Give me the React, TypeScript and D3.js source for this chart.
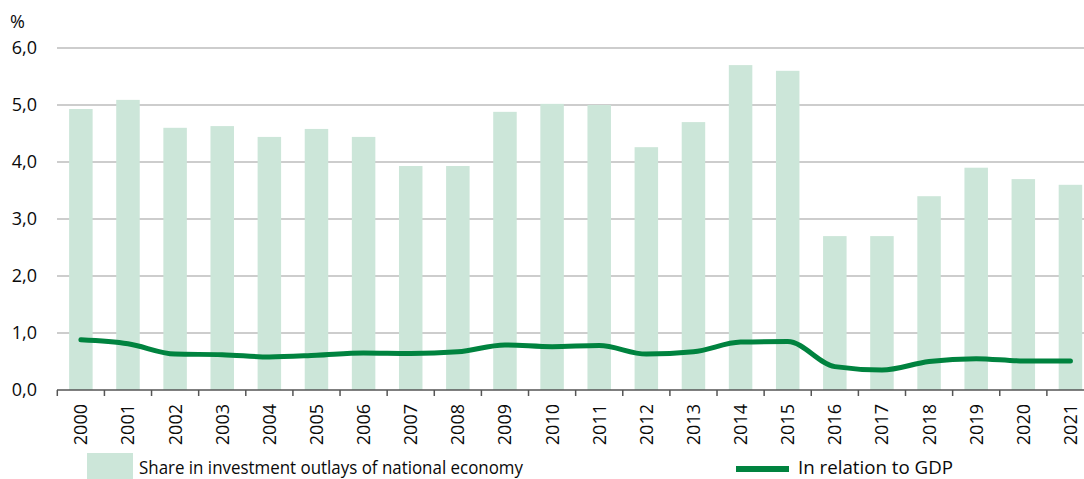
import { useEffect, useRef } from "react";
import * as d3 from "d3";

const years = [
  "2000", "2001", "2002", "2003", "2004", "2005", "2006", "2007", "2008", "2009", "2010",
  "2011", "2012", "2013", "2014", "2015", "2016", "2017", "2018", "2019", "2020", "2021",
];

// share in investment outlays of national economy (%)
const shareValues = [
  4.93, 5.09, 4.6, 4.63, 4.44, 4.58, 4.44, 3.93, 3.93, 4.88, 5.02,
  5.0, 4.26, 4.7, 5.7, 5.6, 2.7, 2.7, 3.4, 3.9, 3.7, 3.6,
];

// in relation to GDP (%)
const gdpValues = [
  0.88, 0.81, 0.63, 0.62, 0.58, 0.61, 0.65, 0.64, 0.67, 0.79, 0.76,
  0.78, 0.63, 0.67, 0.84, 0.85, 0.41, 0.35, 0.5, 0.55, 0.51, 0.51,
];

const yTicks = [0, 1, 2, 3, 4, 5, 6];
const legendBars = "Share in investment outlays of national economy";
const legendLine = "In relation to GDP";

const BAR_COLOR = "#cce6d9";
const LINE_COLOR = "#00833f";
const TEXT_COLOR = "#0a0a0a";
const FONT = "'Open Sans', sans-serif";

export default function App() {
  const svgRef = useRef<SVGSVGElement>(null);

  useEffect(() => {
    document.body.style.margin = "0";
    if (!svgRef.current) return;
    const width = 1084;
    const height = 479;

    const svg = d3.select(svgRef.current);
    svg.selectAll("*").remove();

    const x = d3.scaleBand().domain(years).range([57.3, 1094]).paddingInner(0).paddingOuter(0);
    const y = d3.scaleLinear().domain([0, 6]).range([390, 48]);
    const barW = 23.5;

    // grid
    yTicks.slice(1).forEach((t) => {
      svg
        .append("line")
        .attr("x1", 57)
        .attr("x2", width)
        .attr("y1", y(t))
        .attr("y2", y(t))
        .attr("stroke", "#bdbdbd")
        .attr("stroke-width", 1.5);
    });

    // bars
    svg
      .append("g")
      .selectAll("rect")
      .data(shareValues)
      .join("rect")
      .attr("x", (_, i) => x(years[i])! + x.bandwidth() / 2 - barW / 2)
      .attr("width", barW)
      .attr("y", (d) => y(d))
      .attr("height", (d) => y(0) - y(d))
      .attr("fill", BAR_COLOR);

    // axis line + ticks
    svg
      .append("line")
      .attr("x1", 57)
      .attr("x2", width)
      .attr("y1", y(0))
      .attr("y2", y(0))
      .attr("stroke", "#555")
      .attr("stroke-width", 1.5);

    years.forEach((yr) => {
      const tx = x(yr)!;
      svg
        .append("line")
        .attr("x1", tx)
        .attr("x2", tx)
        .attr("y1", y(0))
        .attr("y2", y(0) + 6)
        .attr("stroke", "#555")
        .attr("stroke-width", 1.5);
    });

    // GDP line
    const line = d3
      .line<number>()
      .x((_, i) => x(years[i])! + x.bandwidth() / 2)
      .y((d) => y(d))
      .curve(d3.curveMonotoneX);

    svg
      .append("path")
      .datum(gdpValues)
      .attr("fill", "none")
      .attr("stroke", LINE_COLOR)
      .attr("stroke-width", 5)
      .attr("stroke-linecap", "round")
      .attr("stroke-linejoin", "round")
      .attr("d", line);

    // y labels
    yTicks.forEach((t) => {
      svg
        .append("text")
        .attr("x", 37)
        .attr("y", y(t))
        .attr("dy", "0.36em")
        .attr("text-anchor", "end")
        .attr("font-family", FONT)
        .attr("font-size", 18)
        .attr("fill", TEXT_COLOR)
        .text(t.toFixed(1).replace(".", ","));
    });

    svg
      .append("text")
      .attr("x", 10)
      .attr("y", 28)
      .attr("font-family", FONT)
      .attr("font-size", 18)
      .attr("fill", TEXT_COLOR)
      .text("%");

    // x labels
    years.forEach((yr) => {
      const cx = x(yr)! + x.bandwidth() / 2;
      svg
        .append("text")
        .attr("transform", `translate(${cx + 6.5},404) rotate(-90)`)
        .attr("text-anchor", "end")
        .attr("font-family", FONT)
        .attr("font-size", 18)
        .attr("fill", TEXT_COLOR)
        .text(yr);
    });

    // legend
    svg
      .append("rect")
      .attr("x", 87)
      .attr("y", 453)
      .attr("width", 46)
      .attr("height", 30)
      .attr("fill", BAR_COLOR);
    svg
      .append("text")
      .attr("x", 139)
      .attr("y", 473.5)
      .attr("font-family", FONT)
      .attr("font-size", 18.5)
      .attr("textLength", 384)
      .attr("lengthAdjust", "spacingAndGlyphs")
      .attr("fill", TEXT_COLOR)
      .text(legendBars);

    svg
      .append("line")
      .attr("x1", 736)
      .attr("x2", 789)
      .attr("y1", 469)
      .attr("y2", 469)
      .attr("stroke", LINE_COLOR)
      .attr("stroke-width", 6);
    svg
      .append("text")
      .attr("x", 798)
      .attr("y", 473.5)
      .attr("font-family", FONT)
      .attr("font-size", 18.5)
      .attr("textLength", 155)
      .attr("lengthAdjust", "spacingAndGlyphs")
      .attr("fill", TEXT_COLOR)
      .text(legendLine);

    svg.attr("width", width).attr("height", height);
  }, []);

  return <svg ref={svgRef} style={{ display: "block" }} />;
}
